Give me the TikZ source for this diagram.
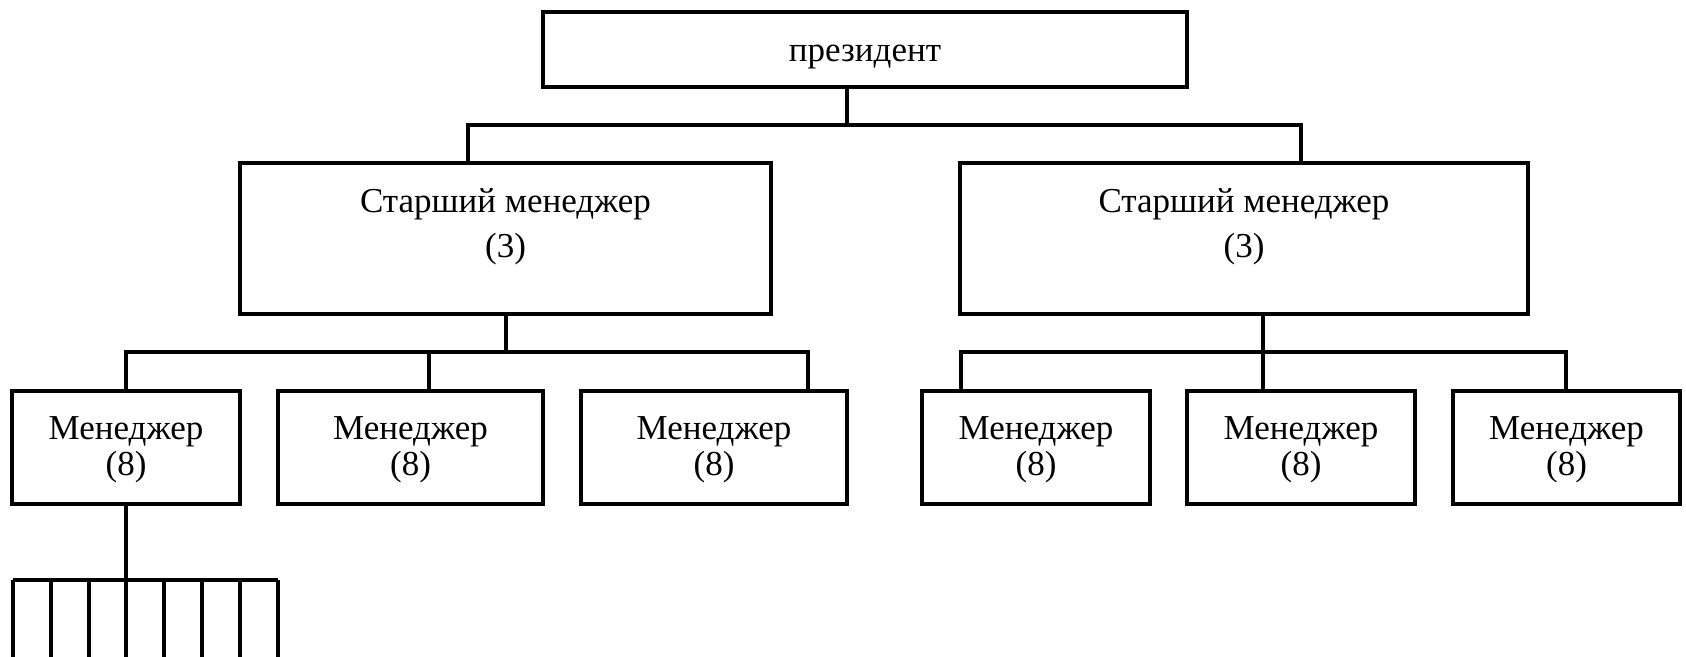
\documentclass[tikz,border=0pt]{standalone}
\usepackage{fontspec}
\setmainfont{Liberation Serif}
\usetikzlibrary{fit}
\begin{document}
\begin{tikzpicture}[x=0.5pt, y=-0.5pt,
  box/.style={draw, line width=1.7pt, inner sep=0pt},
  lbl/.style={font=\fontsize{17.5}{21}\selectfont, inner sep=0pt, anchor=base},
  wire/.style={line width=1.7pt}]
\useasboundingbox (0,0) rectangle (1686,657);
\fill[white] (0,0) rectangle (1686,657);

% boxes
\node[box, fit={(543,12)(1187,87)}] (pres) {};
\node[box, fit={(240,163)(771,314)}] (sl) {};
\node[box, fit={(960,163)(1528,314)}] (sr) {};
\node[box, fit={(12,391)(240,504)}] (m1) {};
\node[box, fit={(278,391)(543,504)}] (m2) {};
\node[box, fit={(581,391)(847,504)}] (m3) {};
\node[box, fit={(922,391)(1150,504)}] (m4) {};
\node[box, fit={(1187,391)(1415,504)}] (m5) {};
\node[box, fit={(1453,391)(1680,504)}] (m6) {};

% labels
\node[lbl] (pres-t) at (865,62) {президент};
\node[lbl] (sl-t1) at (505.5,213) {Старший менеджер};
\node[lbl] (sl-t2) at (505.5,258) {(3)};
\node[lbl] (sr-t1) at (1244,213) {Старший менеджер};
\node[lbl] (sr-t2) at (1244,258) {(3)};
\foreach \n/\x in {m1/126, m2/410.5, m3/714, m4/1036, m5/1301, m6/1566.5} {
  \node[lbl] (\n-t1) at (\x,439) {Менеджер};
  \node[lbl] (\n-t2) at (\x,475) {(8)};
}

% president to senior managers
\coordinate (j0) at (847,125);
\coordinate (jl) at (468,125);
\coordinate (jr) at (1301,125);
\draw[wire] (pres.south -| j0) -- (j0);
\draw[wire] (sl.north -| jl) -- (jl) -- (jr) -- (sr.north -| jr);

% left senior manager to managers
\coordinate (kl) at (506,352);
\coordinate (k1) at (126,352);
\coordinate (k2) at (429,352);
\coordinate (k3) at (808,352);
\draw[wire] (sl.south -| kl) -- (kl);
\draw[wire] (m1.north -| k1) -- (k1) -- (k3) -- (m3.north -| k3);
\draw[wire] (k2) -- (m2.north -| k2);

% right senior manager to managers
\coordinate (kr) at (1263,352);
\coordinate (k4) at (961,352);
\coordinate (k6) at (1566,352);
\draw[wire] (sr.south -| kr) -- (kr) -- (m5.north -| kr);
\draw[wire] (m4.north -| k4) -- (k4) -- (k6) -- (m6.north -| k6);

% staff under the first manager
\coordinate (f) at (126,580);
\coordinate (fa) at (13,580);
\coordinate (fb) at (278,580);
\draw[wire] (m1.south) -- (f);
\draw[wire] (fa) -- (fb);
\foreach \i/\x in {1/13,2/51,3/89,4/126,5/164,6/202,7/240,8/278} {
  \coordinate (e\i) at (\x,657);
  \draw[wire] (\x,580) -- (e\i);
}
\end{tikzpicture}
\end{document}
